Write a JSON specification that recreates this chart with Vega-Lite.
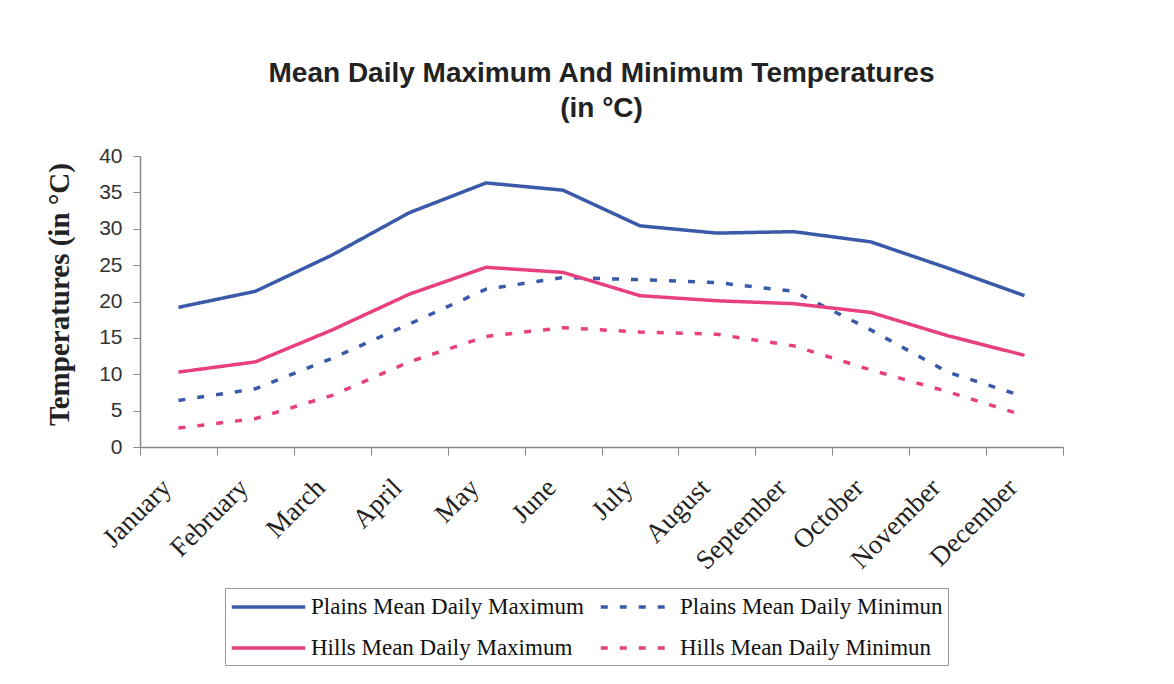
{
  "$schema": "https://vega.github.io/schema/vega-lite/v6.json",
  "autosize": {"type": "none"},
  "padding": {"left": 140, "top": 156, "right": 111, "bottom": 237},
  "width": 923,
  "height": 291,
  "background": "white",
  "config": {"view": {"stroke": null}},
  "title": {
    "text": ["Mean Daily Maximum And Minimum Temperatures", "(in °C)"],
    "font": "Liberation Sans",
    "fontSize": 28,
    "fontWeight": "bold",
    "color": "#222222",
    "lineHeight": 35,
    "offset": 22,
    "anchor": "middle"
  },
  "data": {
    "values": [
      {"month": "January", "series": "Plains Mean Daily Maximum", "value": 19.2},
      {"month": "February", "series": "Plains Mean Daily Maximum", "value": 21.4},
      {"month": "March", "series": "Plains Mean Daily Maximum", "value": 26.4},
      {"month": "April", "series": "Plains Mean Daily Maximum", "value": 32.2},
      {"month": "May", "series": "Plains Mean Daily Maximum", "value": 36.3},
      {"month": "June", "series": "Plains Mean Daily Maximum", "value": 35.3},
      {"month": "July", "series": "Plains Mean Daily Maximum", "value": 30.4},
      {"month": "August", "series": "Plains Mean Daily Maximum", "value": 29.4},
      {"month": "September", "series": "Plains Mean Daily Maximum", "value": 29.6},
      {"month": "October", "series": "Plains Mean Daily Maximum", "value": 28.2},
      {"month": "November", "series": "Plains Mean Daily Maximum", "value": 24.6},
      {"month": "December", "series": "Plains Mean Daily Maximum", "value": 20.8},
      {"month": "January", "series": "Plains Mean Daily Minimun", "value": 6.4},
      {"month": "February", "series": "Plains Mean Daily Minimun", "value": 8.0},
      {"month": "March", "series": "Plains Mean Daily Minimun", "value": 12.2},
      {"month": "April", "series": "Plains Mean Daily Minimun", "value": 16.9},
      {"month": "May", "series": "Plains Mean Daily Minimun", "value": 21.7},
      {"month": "June", "series": "Plains Mean Daily Minimun", "value": 23.3},
      {"month": "July", "series": "Plains Mean Daily Minimun", "value": 23.0},
      {"month": "August", "series": "Plains Mean Daily Minimun", "value": 22.6},
      {"month": "September", "series": "Plains Mean Daily Minimun", "value": 21.4},
      {"month": "October", "series": "Plains Mean Daily Minimun", "value": 16.1},
      {"month": "November", "series": "Plains Mean Daily Minimun", "value": 10.3},
      {"month": "December", "series": "Plains Mean Daily Minimun", "value": 6.9},
      {"month": "January", "series": "Hills Mean Daily Maximum", "value": 10.3},
      {"month": "February", "series": "Hills Mean Daily Maximum", "value": 11.7},
      {"month": "March", "series": "Hills Mean Daily Maximum", "value": 16.1},
      {"month": "April", "series": "Hills Mean Daily Maximum", "value": 21.0},
      {"month": "May", "series": "Hills Mean Daily Maximum", "value": 24.7},
      {"month": "June", "series": "Hills Mean Daily Maximum", "value": 24.0},
      {"month": "July", "series": "Hills Mean Daily Maximum", "value": 20.8},
      {"month": "August", "series": "Hills Mean Daily Maximum", "value": 20.1},
      {"month": "September", "series": "Hills Mean Daily Maximum", "value": 19.7},
      {"month": "October", "series": "Hills Mean Daily Maximum", "value": 18.5},
      {"month": "November", "series": "Hills Mean Daily Maximum", "value": 15.3},
      {"month": "December", "series": "Hills Mean Daily Maximum", "value": 12.6},
      {"month": "January", "series": "Hills Mean Daily Minimun", "value": 2.6},
      {"month": "February", "series": "Hills Mean Daily Minimun", "value": 3.9},
      {"month": "March", "series": "Hills Mean Daily Minimun", "value": 7.1},
      {"month": "April", "series": "Hills Mean Daily Minimun", "value": 11.7},
      {"month": "May", "series": "Hills Mean Daily Minimun", "value": 15.2},
      {"month": "June", "series": "Hills Mean Daily Minimun", "value": 16.4},
      {"month": "July", "series": "Hills Mean Daily Minimun", "value": 15.8},
      {"month": "August", "series": "Hills Mean Daily Minimun", "value": 15.5},
      {"month": "September", "series": "Hills Mean Daily Minimun", "value": 13.9},
      {"month": "October", "series": "Hills Mean Daily Minimun", "value": 10.6},
      {"month": "November", "series": "Hills Mean Daily Minimun", "value": 7.6},
      {"month": "December", "series": "Hills Mean Daily Minimun", "value": 4.3}
    ]
  },
  "mark": {"type": "line", "strokeWidth": 3.5, "strokeCap": "butt"},
  "encoding": {
    "x": {
      "field": "month",
      "type": "nominal",
      "sort": ["January", "February", "March", "April", "May", "June", "July", "August", "September", "October", "November", "December"],
      "scale": {"type": "band", "paddingInner": 0, "paddingOuter": 0},
      "axis": {
        "title": null,
        "labelAngle": -45,
        "labelFont": "Liberation Serif",
        "labelFontSize": 27,
        "labelColor": "#222222",
        "labelPadding": 19,
        "labelOffset": -21,
        "tickBand": "extent",
        "tickSize": 8,
        "tickColor": "#888888",
        "domainColor": "#888888",
        "domainWidth": 1.5,
        "labelLimit": 300
      }
    },
    "y": {
      "field": "value",
      "type": "quantitative",
      "scale": {"domain": [0, 40], "nice": false},
      "axis": {
        "title": "Temperatures (in °C)",
        "titleFont": "Liberation Serif",
        "titleFontSize": 29,
        "titleFontWeight": "bold",
        "titleColor": "#222222",
        "titlePadding": 24,
        "titleY": 138,
        "values": [0, 5, 10, 15, 20, 25, 30, 35, 40],
        "grid": false,
        "labelFont": "Liberation Sans",
        "labelFontSize": 21,
        "labelColor": "#333333",
        "labelPadding": 11,
        "tickSize": 7,
        "tickColor": "#888888",
        "domainColor": "#888888",
        "domainWidth": 1.5
      }
    },
    "color": {
      "field": "series",
      "type": "nominal",
      "scale": {
        "domain": ["Plains Mean Daily Maximum", "Plains Mean Daily Minimun", "Hills Mean Daily Maximum", "Hills Mean Daily Minimun"],
        "range": ["#3a59a8", "#3a59a8", "#e8407f", "#e8407f"]
      },
      "legend": {
        "title": null,
        "orient": "none",
        "direction": "horizontal",
        "legendX": 85,
        "legendY": 432,
        "columns": 2,
        "symbolType": "M -1 0 L 5 0",
        "symbolSize": 600,
        "symbolStrokeWidth": 3.5,
        "labelFont": "Liberation Serif",
        "labelFontSize": 23,
        "labelColor": "#111111",
        "labelLimit": 400,
        "labelOffset": 53,
        "strokeColor": "#999999",
        "fillColor": "white",
        "padding": 5,
        "rowPadding": 15,
        "columnPadding": 9
      }
    },
    "strokeDash": {
      "field": "series",
      "type": "nominal",
      "scale": {
        "domain": ["Plains Mean Daily Maximum", "Plains Mean Daily Minimun", "Hills Mean Daily Maximum", "Hills Mean Daily Minimun"],
        "range": [[1, 0], [7, 12], [1, 0], [7, 12]]
      },
      "legend": null
    }
  }
}
